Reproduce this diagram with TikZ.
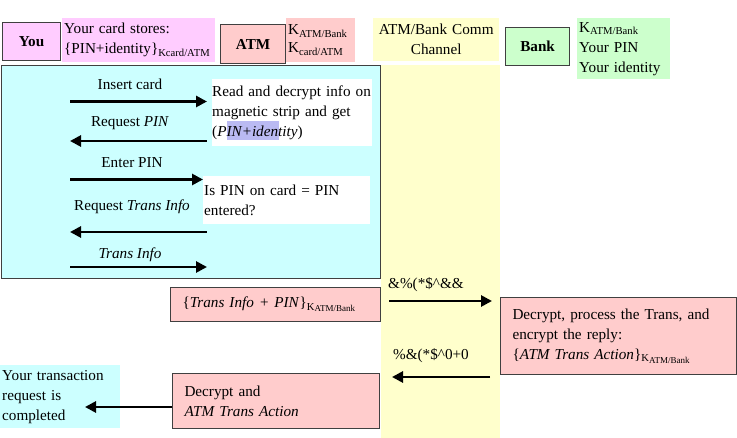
\documentclass[tikz,border=0pt]{standalone}
\usepackage{fontspec}
\setmainfont{Liberation Serif}
\usetikzlibrary{arrows.meta,positioning}
\definecolor{youpink}{HTML}{FFCCFF}
\definecolor{atmpink}{HTML}{FFCCCC}
\definecolor{chanyellow}{HTML}{FFFFCC}
\definecolor{bankgreen}{HTML}{CCFFCC}
\definecolor{usercyan}{HTML}{CCFFFF}
\definecolor{hilite}{HTML}{BABAF2}
\newcommand{\kab}{K\textsubscript{ATM/Bank}}
\newcommand{\kabsub}{\textsubscript{K\raisebox{-0.35ex}{\fontsize{9}{9}\selectfont ATM/Bank}}}

\begin{document}
\begin{tikzpicture}[x=1pt,y=-1pt,>={Triangle[length=11pt,width=11pt]},font=\fontsize{15.2}{20}\selectfont]
  \tikzstyle{actor}=[draw=black!75,line width=1.2pt,anchor=north west,inner sep=0pt,font=\fontsize{15.2}{20}\selectfont\bfseries]
  \tikzstyle{note}=[anchor=north west,align=left,inner xsep=2pt,inner ysep=0pt]
  \tikzstyle{msgbox}=[draw=black!75,line width=1pt,fill=atmpink,anchor=north west,align=left,inner xsep=12pt,inner ysep=0pt]
  \tikzstyle{msg}=[->,line width=2.8pt]
  \useasboundingbox (0,0) rectangle (737,438);
  % header row
  \node[actor,fill=youpink,minimum width=58pt,minimum height=38pt] (you) at (2,22) {You};
  \node[note,fill=youpink,text width=149pt,minimum height=44pt] (cardnote) at (62,18)
    {Your card stores:\\\{PIN+identity\}\textsubscript{Kcard/ATM}};
  \node[actor,fill=atmpink,minimum width=65pt,minimum height=39pt] (atm) at (220,24) {ATM};
  \node[note,fill=atmpink,text width=65pt,minimum height=44pt,font=\fontsize{15.2}{18}\selectfont] (atmkeys) at (286,18)
    {\kab\\K\textsubscript{card/ATM}};
  \node[note,fill=chanyellow,align=center,text width=122pt,minimum height=43pt] (chanhead) at (373,18)
    {ATM/Bank Comm\\Channel};
  \node[actor,fill=bankgreen,minimum width=64pt,minimum height=38pt] (bank) at (505,27) {Bank};
  \node[note,fill=bankgreen,text width=89pt,minimum height=61pt] (banknote) at (577,18)
    {\kab\\Your PIN\\Your identity};
  % channel column and user panel
  \fill[chanyellow] (381,65) rectangle (500,438);
  \node[draw=black!75,line width=1.2pt,fill=usercyan,anchor=north west,inner sep=0pt,minimum width=379pt,minimum height=213pt] (userpanel) at (1,65) {};
  \node[note,fill=white,inner xsep=0pt,text width=160pt,minimum height=67pt,
        path picture={\fill[hilite] ([shift={(15,42)}]path picture bounding box.north west)
                      rectangle ([shift={(67,61)}]path picture bounding box.north west);}] (readbox) at (212,79)
    {Read and decrypt info on\\magnetic strip and get\\(\textit{PIN+identity})};
  \node[note,fill=white,inner xsep=1pt,text width=165pt,minimum height=48pt] (checkbox) at (203,176)
    {Is PIN on card = PIN\\entered?};
  % dialogue at the ATM
  \foreach \i/\y/\dir/\xr in {1/101.5/->/207,2/141/<-/207,3/179.5/->/203,4/232/<-/207,5/267/->/207} {
    \coordinate (l\i) at (70,\y);
    \coordinate (r\i) at (\xr,\y);
    \draw[msg,\dir] (l\i) -- (r\i);
  }
  \node (lab1) at (130,84) {Insert card};
  \node (lab2) at (130,123) {Request \textit{PIN}};
  \node (lab3) at (132,162.5) {Enter PIN};
  \node (lab4) at (132,207) {Request \textit{Trans Info}};
  \node (lab5) at (130,254.5) {\textit{Trans Info}};
  % ATM <-> Bank
  \node[msgbox,text width=186pt,minimum height=34pt] (encbox) at (170,287)
    {\{\textit{Trans Info + PIN}\}\kabsub};
  \node[msgbox,text width=212pt,minimum height=77pt] (bankproc) at (500,297)
    {Decrypt, process the Trans, and\\encrypt the reply:\\\{\textit{ATM Trans Action}\}\kabsub};
  \node[msgbox,text width=183pt,minimum height=55pt] (decbox) at (172,373)
    {Decrypt and\\\textit{ATM Trans Action}};
  \node[note,fill=usercyan,text width=116pt,minimum height=63pt] (donenote) at (0,365)
    {Your transaction\\request is\\completed};
  \coordinate (tx) at (389,301);
  \coordinate (rx) at (490,377);
  \coordinate (donept) at (85,407);
  \draw[msg,shorten >=8pt] (tx) -- (bankproc.west |- tx);
  \draw[msg] (rx) -- (392,377);
  \draw[msg] (decbox.west |- donept) -- (donept);
  \node (cipher1) at (426,285) {\&\%(*\$\textasciicircum\&\&};
  \node (cipher2) at (431,356) {\%\&(*\$\textasciicircum 0+0};
\end{tikzpicture}
\end{document}
